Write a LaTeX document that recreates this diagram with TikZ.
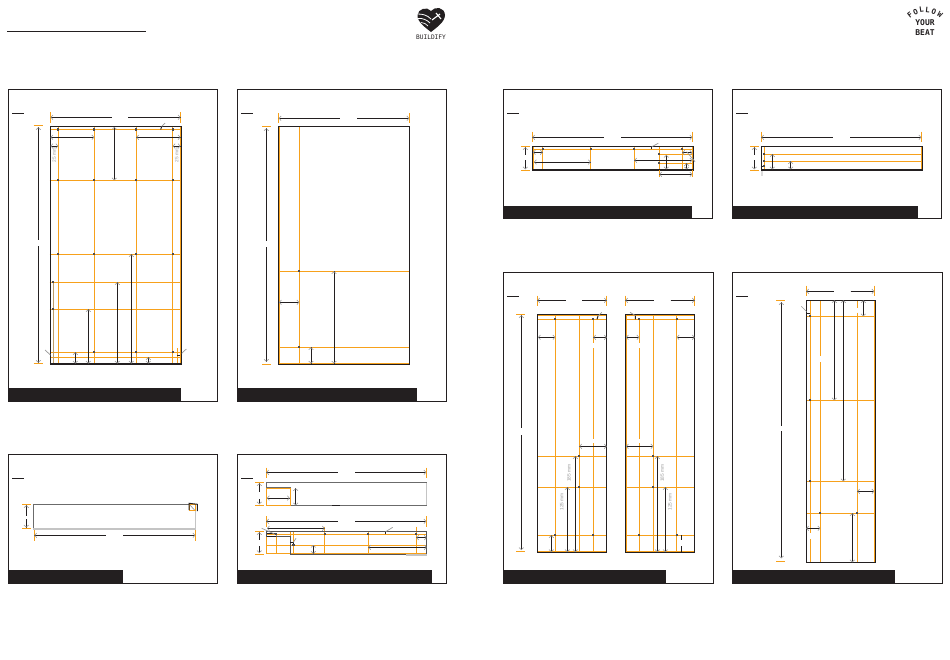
\documentclass[tikz,border=0pt]{standalone}
\usepackage{fontspec}
\setmainfont{Liberation Sans}
\newfontfamily\logofont{DejaVu Sans Mono}
\usetikzlibrary{arrows.meta,positioning}

\definecolor{cut}{HTML}{F7A11B}
\definecolor{ink}{HTML}{231F20}
\definecolor{tipgrey}{HTML}{9A9A9A}
\definecolor{edgegrey}{HTML}{6B6B6B}
\definecolor{palegrey}{HTML}{C4C4C4}

\tikzset{
    frame/.style={draw=ink,line width=.9pt},
    bar/.style={fill=ink,draw=none},
    sheet/.style={draw=ink,line width=1.1pt},
    fold/.style={draw=cut,line width=1pt},
    tick/.style={draw=cut,line width=1pt},
    dim/.style={draw=ink,line width=1pt,<->,>={Straight Barb[color=tipgrey,length=2pt,width=4.6pt,line width=.6pt]},
        preaction={draw=ink,line width=1pt,-}},
    plain/.style={draw=ink,line width=1pt},
    leader/.style={draw=tipgrey,line width=.7pt},
    joint/.style={fill=ink!80,draw=none,minimum size=2.2pt,inner sep=0pt},
    size/.style={text=tipgrey,font=\fontsize{4.8}{4.8}\selectfont,rotate=90,inner sep=0pt},
}

% panel with title stroke and footer bar: x0, x1, y0, y1, bar end, bar top
\newcommand{\panelbox}[6]{
    \draw[frame] (#1,#3) rectangle (#2,#4);
    \fill[ink] (#1,#6) rectangle (#5,#4);
    \draw[plain] (#1+4,#3+23.8) -- ++(12,0);
}
% dimension line with a gap for its value: horizontal x0, x1, gap0, gap1, y
\newcommand{\hdim}[5]{
    \draw[dim,-] (#1,#5) -- (#3,#5);
    \draw[dim,-] (#4,#5) -- (#2,#5);
    \draw[dim,<-] (#1,#5) -- ++(8,0);
    \draw[dim,<-] (#2,#5) -- ++(-8,0);
}
% the same, vertical: x, y0, y1, gap0, gap1
\newcommand{\vdim}[5]{
    \draw[dim,-] (#1,#2) -- (#1,#4);
    \draw[dim,-] (#1,#5) -- (#1,#3);
    \draw[dim,<-] (#1,#2) -- ++(0,2);
    \draw[dim,<-] (#1,#3) -- ++(0,-2);
}
\newcommand{\joints}[1]{
    \foreach \px/\py in {#1} \node[joint] at (\px,\py) {};
}

\begin{document}
\begin{tikzpicture}[x=1pt,y=-1pt]
    \useasboundingbox (0,0) rectangle (950,659);
    \fill[white] (0,0) rectangle (950,659);

    % header
    \draw[ink,line width=1pt] (7,31.3) -- (146,31.3);
    \fill[ink] (431,32) .. controls (426,28) and (417,22) .. (417.5,15)
        .. controls (418,9) and (427,6) .. (431,11)
        .. controls (435,6) and (444.5,7) .. (445,15)
        .. controls (445,22) and (436,28) .. (431,32) -- cycle;
    \draw[white,line width=.8pt] (417.5,14) .. controls (423,14) and (427,15) .. (431,19);
    \draw[white,line width=.8pt] (418,18.5) .. controls (423,18) and (427,20) .. (430,23);
    \draw[white,line width=.7pt] (421,22.5) .. controls (424,22.5) and (426,24) .. (428,26);
    \draw[white,line width=1.1pt] (432,20) -- (440,14) (436,13) -- (441,19);
    \node[font=\logofont\fontsize{6.2}{6}\selectfont,text=ink,inner sep=0pt] (logotext) at (431,37.7) {BUILDIFY};
    \foreach \ch/\px/\py/\ang in {F/910/15.5/38,O/915.5/12/24,L/921.5/10/8,L/927.5/10/-6,O/934/11.5/-20,W/940/15/-36}
        \node[font=\logofont\bfseries\fontsize{7.4}{7.4}\selectfont,text=ink,inner sep=0pt,rotate=\ang] at (\px,\py) {\ch};
    \node[font=\logofont\bfseries\fontsize{8}{8}\selectfont,text=ink,inner sep=0pt] (logoyour) at (925,22.7) {YOUR};
    \node[font=\logofont\bfseries\fontsize{8}{8}\selectfont,text=ink,inner sep=0pt] (logobeat) at (925,32.3) {BEAT};

    % panel one
    \panelbox{8.4}{217.5}{89.4}{401.5}{180.5}{387.5}
    \foreach \x in {50.5,58.3,94.3,136.3,172.7,180.3} \draw[fold] (\x,126.5) -- (\x,364);
    \foreach \y in {129.5,180.3,254.3,282.3,309.3,352.3,357.3,363.3} \draw[fold] (49.5,\y) -- (180.5,\y);
    \draw[draw=tipgrey!60!cut,line width=.9pt] (53.3,282.3) -- (53.3,363);
    \draw[sheet] (50.5,126.5) rectangle (181.5,364);
    \draw[tick] (50.5,112.3) -- (50.5,122.7) (180.5,112.3) -- (180.5,122.7);
    \draw[tick] (33.5,125.3) -- (42.5,125.3) (33.5,363.3) -- (42.5,363.3);
    \hdim{50.5}{180.5}{111.7}{128.3}{117.3}
    \vdim{38.3}{127.3}{362.7}{240}{246}
    \foreach \xa/\xb/\y in {50.5/94.3/137.3,136.3/180.5/137.3,50.5/58.3/146,172.7/180.5/146}
        \draw[dim] (\xa,\y) -- (\xb,\y);
    \foreach \x/\ya/\yb in {114.3/127/180.3,131.3/254.3/363.5,117.3/282.3/363.5,88.3/309.3/363.5,75.3/352.3/363.5,148.3/357.3/363.5}
        \draw[dim] (\x,\ya) -- (\x,\yb);
    \node[size] (sizea) at (54.3,155) {25 mm};
    \node[size] (sizeb) at (176.7,155) {25 mm};
    \draw[plain] (160.7,129.5) -- (161.7,126.5);
    \draw[leader] (161.7,126.5) -- (165,123);
    \draw[leader] (45,350) -- (50.5,355) (181.7,353.3) -- (186.3,349);
    \draw[tick] (177.3,348.3) -- (177.3,363);
    \draw[plain] (177.3,355.3) -- (180.3,355.3);
    \joints{58.3/129.5,94.3/129.5,136.3/129.5,172.7/129.5,58.3/180.3,94.3/180.3,136.3/180.3,172.7/180.3,
        58.3/254.3,94.3/254.3,136.3/254.3,172.7/254.3,53/282.3,53/309.3,94.3/352.3,136.3/352.3,172.7/352.3}

    % panel two
    \panelbox{237.3}{446.4}{89.4}{401.5}{417.3}{388}
    \foreach \x in {279.7,299.3} \draw[fold] (\x,126.5) -- (\x,364);
    \foreach \y in {271.3,347.3,363.3} \draw[fold] (279.7,\y) -- (409.3,\y);
    \draw[sheet] (278.7,126.5) rectangle (409.3,364.3);
    \draw[tick] (278.7,113.3) -- (278.7,123.3) (409.3,113.3) -- (409.3,123.3);
    \draw[tick] (262,126.3) -- (271,126.3) (262,364.3) -- (271,364.3);
    \hdim{278.7}{409.3}{340}{357}{118.3}
    \vdim{266.3}{128.3}{361.7}{240.7}{247.3}
    \draw[dim] (279,302.3) -- (299.3,302.3);
    \draw[dim] (334,271.3) -- (334,363.5);
    \draw[dim] (311,347.3) -- (311,363.5);
    \joints{299.3/271.3,299.3/347}

    % panel three
    \panelbox{8.4}{217.5}{454.3}{583.3}{123}{570.3}
    \draw[edgegrey,line width=1pt] (33.3,529) -- (33.3,504.3) -- (195.3,504.3);
    \draw[palegrey,line width=1.1pt] (33.3,529) -- (195.3,529) -- (195.3,504.3);
    \draw[fold] (189.3,504.3) rectangle (195,510.7);
    \draw[plain] (189,510) -- (189,503.3) -- (197.3,504.3) -- (197.3,511);
    \draw[leader] (190,505) -- (194.5,510);
    \draw[tick] (22,504.3) -- (31,504.3) (22,528.4) -- (31,528.4);
    \vdim{26.3}{505.3}{527.5}{515.7}{519}
    \draw[tick] (34.3,530) -- (34.3,540.7) (195.3,530) -- (195.3,540.7);
    \hdim{34.3}{195.3}{106}{123}{535.3}

    % panel four
    \panelbox{237.3}{446.7}{454.3}{583.3}{432.3}{570.3}
    \draw[palegrey,line width=1.1pt] (408,505.7) -- (426.7,505.7) -- (426.7,482.3);
    \draw[edgegrey,line width=1pt] (426.7,505.7) -- (290,505.7) -- (290,487.3) -- (266.3,487.3) -- (266.3,482.3) -- (426.7,482.3);
    \draw[fold] (266.3,488.3) rectangle (290,505.3);
    \draw[plain] (332,505.7) -- (340,505.7);
    \draw[tick] (266.3,467.7) -- (266.3,477.7) (426.3,467.7) -- (426.3,477.7);
    \draw[tick] (255,482.3) -- (264,482.3) (255,505.3) -- (264,505.3);
    \hdim{266.3}{426.3}{338.3}{355}{472.3}
    \vdim{259.3}{483.3}{504.3}{491.7}{499}
    \draw[dim] (267,498) -- (289.7,498);
    \draw[dim] (295.7,488.3) -- (295.7,505.3);
    \foreach \x in {266.3,276.3} \draw[fold] (\x,534.3) -- (\x,553.7);
    \foreach \x in {290,293.3,324.7,368.3,416.3} \draw[fold] (\x,531.3) -- (\x,553.7);
    \foreach \y in {534.3,545,553.7} \draw[fold] (266.3,\y) -- (426.3,\y);
    \draw[fold] (324.7,526.7) -- (324.7,532);
    \draw[fold] (416.3,526.7) -- (416.3,532);
    \draw[edgegrey!70!ink,line width=1pt] (266.3,536) -- (266.3,531.3) -- (426.7,531.3) -- (426.7,554.3) -- (290,554.3) -- (290,536) -- cycle;
    \draw[palegrey,line width=1.1pt] (406,555) -- (426.7,555);
    \draw[tick] (266.3,516.3) -- (266.3,526.7) (426.3,516.3) -- (426.3,526.7);
    \draw[tick] (255,531.3) -- (264,531.3) (255,554) -- (264,554);
    \hdim{266.3}{426.3}{338.3}{355}{521.3}
    \vdim{259.3}{532.3}{553}{539.7}{546}
    \draw[dim] (267,528.3) -- (324.7,528.3);
    \draw[dim] (313.3,545) -- (313.3,553.7);
    \draw[dim] (368.3,547.3) -- (426.7,547.3);
    \draw[dim] (416.3,537.7) -- (426.7,537.7);
    \draw[plain] (267,533.3) -- (276.3,533.3) (267,536) -- (276.3,536);
    \draw[plain] (385.7,534.3) -- (385.7,531.7) (290.3,542.3) -- (293.3,542.3) (293.3,542.3) -- (293.3,545);
    \draw[leader] (385.7,531.7) -- (392.7,527.3) (293.3,542.3) -- (296,538.3) (261.7,528.3) -- (276.7,535);
    \joints{276.3/534.3,324.7/534.3,368.3/534.3,416.3/534.3,293.5/545}

    % panel five
    \panelbox{503.3}{712.3}{89.3}{218.3}{691.7}{205.7}
    \foreach \x in {533.3,542.7,590.7,634.3,659.3,682.3,692.3} \draw[fold] (\x,146.3) -- (\x,170);
    \draw[fold] (533,149.3) -- (693,149.3) (533,169.3) -- (693,169.3);
    \draw[fold] (659.3,154.3) -- (692.3,154.3) (659.3,163.3) -- (692.3,163.3);
    \draw[sheet] (532.3,146.3) rectangle (693.7,170);
    \draw[tick] (659.3,170) -- (659.3,176.7) (692.3,170) -- (692.3,176.7);
    \draw[tick] (532.3,131.7) -- (532.3,141.7) (692.3,131.7) -- (692.3,141.7);
    \draw[tick] (521,146.3) -- (530,146.3) (521,170.3) -- (530,170.3);
    \hdim{532.3}{692.3}{604.3}{621}{137.3}
    \vdim{525.3}{147.3}{169.3}{155}{160}
    \foreach \xa/\xb/\y in {533/542.7/152.3,534/590.7/162,634.3/692.3/160.3,659.3/692.3/174.3,682.3/692.3/152.7}
        \draw[dim] (\xa,\y) -- (\xb,\y);
    \draw[dim] (666.3,155) -- (666.3,169.3);
    \draw[dim] (686.7,163.3) -- (686.7,169.3);
    \draw[plain] (651.7,149.3) -- (651.7,146.7);
    \draw[leader] (651.7,146.7) -- (658.3,143.3) (686.7,151.7) -- (695,161.7);
    \joints{542.7/149.3,590.7/149.3,634.3/149.3,682.3/149.3,659.3/154.3,659.3/163.3}

    % panel six
    \panelbox{732.3}{941.7}{89.3}{218.3}{917.7}{205.7}
    \foreach \x in {764.3,921.3} \draw[fold] (\x,146.3) -- (\x,170);
    \foreach \y in {154.3,161.3,169.3} \draw[fold] (764.3,\y) -- (921.3,\y);
    \draw[sheet] (761.3,146.3) rectangle (922.3,170);
    \fill[palegrey!60] (761.3,170.5) rectangle (763,176);
    \draw[tick] (761.3,131.7) -- (761.3,141.7) (921.3,131.7) -- (921.3,141.7);
    \draw[tick] (750,146.3) -- (759,146.3) (750,170.3) -- (759,170.3);
    \hdim{761.3}{921.3}{833.3}{850}{137.3}
    \vdim{754.3}{147.3}{169.3}{155}{160}
    \draw[dim] (772.3,154.3) -- (772.3,169.3);
    \draw[dim] (790.7,161.3) -- (790.7,169.3);
    \draw[plain] (761.3,166.3) -- (764.3,166.3);
    \joints{764.3/154.3,764.3/161.3,764.3/166.3}

    % panel seven, both sheets
    \panelbox{503.3}{713.7}{272.3}{583.3}{666}{570.3}
    \foreach \xa/\xb/\xc/\xd/\xe in {537.3/555.3/579.3/593.3/606.7,625.3/639.3/653.3/676.7/694.7}{
        \foreach \y in {315.3,319.3,456.3,487.3,535.3,551.3} \draw[fold] (\xa,\y) -- (\xe,\y);
        \draw[fold] (\xc,314.7) -- (\xc,552.3);
        \draw[tick] (\xa,295.7) -- (\xa,305.7) (\xe,295.7) -- (\xe,305.7);
    }
    \foreach \x in {555.3,606,626.3,676.7,694} \draw[fold] (\x,314.7) -- (\x,552.3);
    \foreach \x in {593.3,639.3} \draw[fold] (\x,319.3) -- (\x,343) (\x,348) -- (\x,439) (\x,443) -- (\x,552.3);
    \draw[sheet] (537.3,314.7) rectangle (606.7,552.3) (625.3,314.7) rectangle (694.7,552.3);
    \draw[tick] (516,314.3) -- (525,314.3) (516,551.3) -- (525,551.3);
    \hdim{537.3}{606.7}{565.7}{582.3}{300.3}
    \hdim{625.3}{694.7}{654}{670.7}{300.3}
    \vdim{521.3}{315.3}{550}{428.3}{435}
    \foreach \xa/\xb/\y in {538/555.3/337.3,593.3/606.7/337.3,579.3/606.7/446.3,626/639.3/337.3,676.7/694.7/337.3,626/653.3/446.3}
        \draw[dim] (\xa,\y) -- (\xb,\y);
    \foreach \x/\ya in {551.3/535.3,567.3/487.3,575.3/456.3,657.3/456.3,665.3/487.3}
        \draw[dim] (\x,\ya) -- (\x,552);
    \draw[dim,-] (681.3,535.3) -- (681.3,540) (681.3,546) -- (681.3,552);
    \draw[plain] (597,319.3) -- (598,316) (635.3,319.3) -- (635.3,315.5);
    \draw[leader] (598,316) -- (601.7,312.3) (635.3,315.5) -- (630,312.3);
    \node[size] (sizec) at (569,473) {185 mm};
    \node[size] (sized) at (561.7,501.7) {125 mm};
    \node[size] (sizee) at (662.3,473) {185 mm};
    \node[size] (sizef) at (670,501.7) {125 mm};
    \joints{555.3/319.3,593.3/319.3,579.3/456.3,579.3/487.3,555.3/535.3,593.3/535.3,
        639.3/319.3,676.7/319.3,653.3/456.3,653.3/487.3,639.3/535.3,676.7/535.3}

    % panel eight
    \panelbox{732.3}{942.3}{272.3}{583.3}{895}{570.3}
    \draw[fold] (810.3,300.3) -- (810.3,533.3) (810.3,539) -- (810.3,562.3);
    \draw[fold] (820.3,300.3) -- (820.3,355.7) (820.3,362.3) -- (820.3,562.3);
    \draw[fold] (857.3,300.3) -- (857.3,307.7) (857.3,312.7) -- (857.3,562.3);
    \draw[fold] (874.3,300.3) -- (874.3,562.3);
    \foreach \y in {316.3,400.3,481.3,513.3} \draw[fold] (806.3,\y) -- (874.3,\y);
    \draw[sheet] (806.3,300.3) rectangle (875.3,562.3);
    \draw[tick] (806.3,285.7) -- (806.3,296.3) (874.3,285.7) -- (874.3,296.3);
    \draw[tick] (776,300.3) -- (785,300.3) (776,561.3) -- (785,561.3);
    \hdim{806.3}{874.3}{834}{850.7}{291.3}
    \vdim{781.3}{302.3}{558.3}{425.7}{431}
    \foreach \x/\ya/\yb in {834.3/300.3/400.3,843.3/300.3/481.3,863.3/300.3/316.3,852.3/513.3/562.3}
        \draw[dim] (\x,\ya) -- (\x,\yb);
    \draw[dim] (857.3,491.3) -- (874.3,491.3);
    \draw[dim] (806.3,528.3) -- (820.3,528.3);
    \draw[plain] (806.3,313.3) -- (810.3,313.3);
    \draw[leader] (801.3,306.3) -- (806.6,311.6);
    \joints{810.3/316.3,810.3/400.3,810.3/481.3,820.3/513.3,857.3/513.3}
\end{tikzpicture}
\end{document}
